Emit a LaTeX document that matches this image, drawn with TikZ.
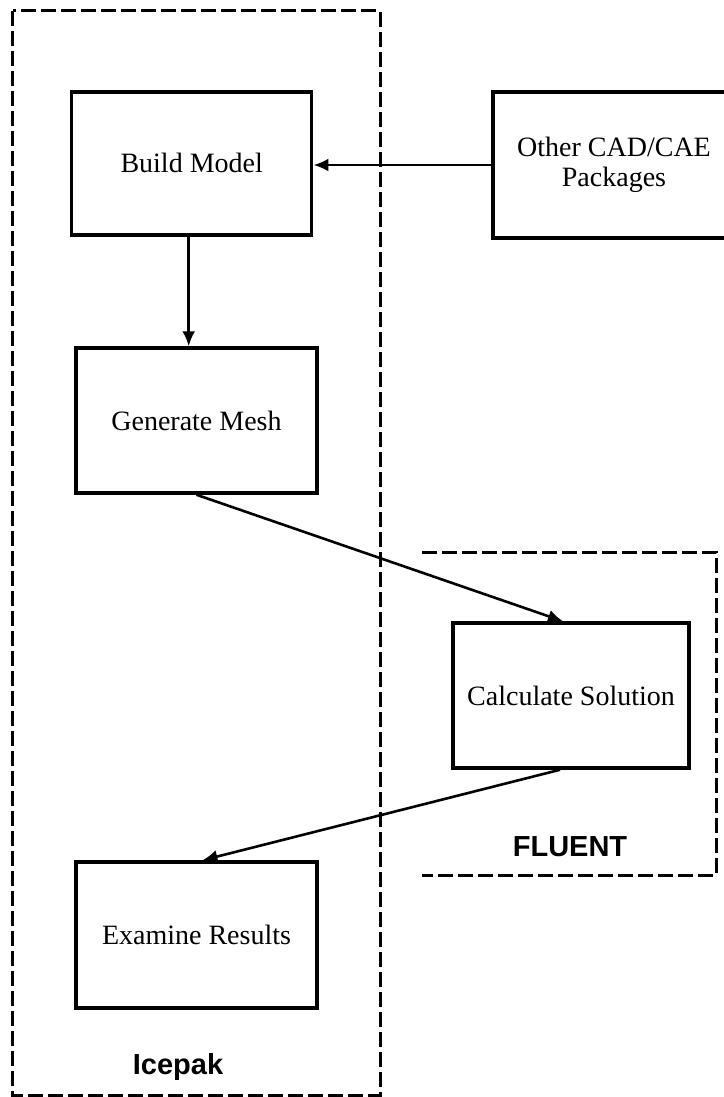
\documentclass[tikz,border=0pt]{standalone}
\usepackage{fontspec}
\setmainfont{Liberation Serif}
\newfontfamily\labfont{Liberation Sans}
\usetikzlibrary{arrows.meta}
\tikzset{
  procbox/.style={draw=black, line width=3.5pt, rectangle, align=center, inner sep=0pt,
    font=\fontsize{28}{30}\selectfont},
  groupline/.style={draw=black, line width=3pt, dash pattern=on 15pt off 5pt},
  arr/.style={draw=black, line width=2.6pt, -{Latex[length=15pt,width=13pt]}},
  grouplabel/.style={font=\labfont\bfseries\fontsize{29}{31}\selectfont, inner sep=0pt}
}
\begin{document}
\begin{tikzpicture}[x=1pt,y=-1pt]
\useasboundingbox (0,0) rectangle (723,1097);
% group outlines
\draw[groupline] (12.7,10.7) rectangle (380,1095);
\draw[groupline] (422,552) -- (716,552) -- (716,875) -- (422,875);
% boxes
\node[procbox, minimum width=240pt, minimum height=143pt] (build) at (191.7,163.3) {Build Model};
\node[procbox, minimum width=242pt, minimum height=146pt] (other) at (614,165) {Other CAD/CAE\\Packages};
\node[procbox, minimum width=241pt, minimum height=145pt] (mesh) at (196.5,420.5) {Generate Mesh};
\node[procbox, minimum width=236pt, minimum height=145pt] (calc) at (571,695.5) {Calculate Solution};
\node[procbox, minimum width=241pt, minimum height=146pt] (exam) at (196.5,935) {Examine Results};
% labels
\node[grouplabel] (fluentlab) at (570,847) {FLUENT};
\node[grouplabel] (icepaklab) at (178,1067) {Icepak};
% connectors
\draw[arr] (other.west) -- (other.west -| build.east);
\draw[arr] ([xshift=-3pt]build.south) -- ([xshift=-3pt]build.south |- mesh.north);
\draw[arr] (mesh.south) -- ([xshift=-8pt]calc.north);
\draw[arr] ([xshift=-11pt]calc.south) -- ([xshift=6pt]exam.north);
\end{tikzpicture}
\end{document}
